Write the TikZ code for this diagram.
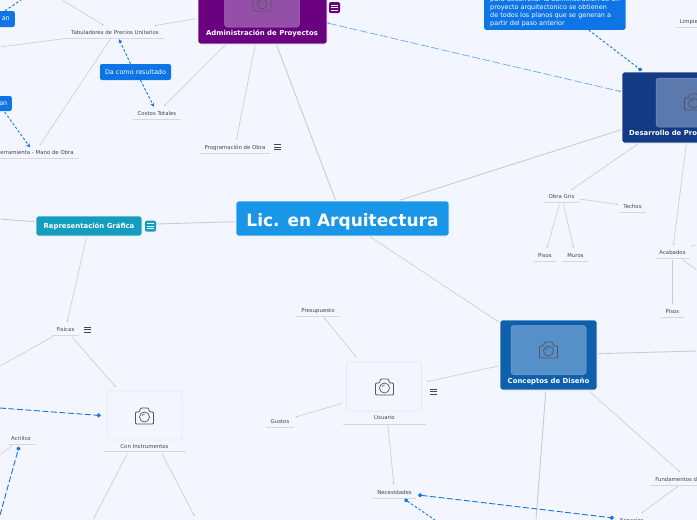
\documentclass[tikz,border=0pt]{standalone}
\usepackage{fontspec}
\setmainfont{DejaVu Sans}
\usetikzlibrary{arrows.meta,calc}
\definecolor{bgc}{HTML}{F4F6FF}
\definecolor{linec}{HTML}{C9CBD3}
\definecolor{blu}{HTML}{0E75E6}
\definecolor{lblu}{HTML}{6AA9F4}
\definecolor{txt}{HTML}{45454D}
\definecolor{under}{HTML}{D5D7E0}
\definecolor{cen}{HTML}{1A96E8}
\definecolor{pur}{HTML}{6A0080}
\definecolor{purin}{HTML}{9450A8}
\definecolor{nav}{HTML}{123A85}
\definecolor{navin}{HTML}{5C79AE}
\definecolor{mid}{HTML}{0E60AD}
\definecolor{midin}{HTML}{5590C8}
\definecolor{teal}{HTML}{149DBF}
\definecolor{imgb}{HTML}{E6E8F0}
\definecolor{camc}{HTML}{55555F}
\tikzset{x=1pt,y=1pt,
 conn/.style={draw=linec,line width=.6pt,shorten >=1pt,shorten <=1pt,-{Stealth[length=2pt,width=2pt]}},
 conb/.style={draw=linec,line width=.9pt,shorten >=1pt,shorten <=1pt,-{Stealth[length=2pt,width=2pt]}},
 lnk/.style={draw=blu,line width=.9pt,dash pattern=on 6pt off 2.5pt,-{Circle[length=4pt,width=4pt]}},
 lnkb/.style={lnk,{Circle[length=4pt,width=4pt]}-{Circle[length=4pt,width=4pt]}},
 lnkd/.style={draw=blu,line width=.9pt,dash pattern=on 2.5pt off 2pt},
 lnkl/.style={draw=lblu,line width=.7pt,dash pattern=on 8pt off 2.5pt,{Circle[length=2pt,width=2pt]}-{Circle[length=2pt,width=2pt]}},
 lab/.style={font=\fontsize{5.4}{6}\selectfont,text=txt,inner sep=0pt,minimum height=12pt,text height=4pt,text depth=0pt},
 ul/.style={draw=under,line width=.8pt},
 topic/.style={rounded corners=2.5pt,draw=white,line width=.7pt,inner sep=0pt,minimum height=#1},
 inner/.style={rounded corners=3pt,inner sep=0pt,minimum width=75pt,minimum height=49pt},
 ghost/.style={inner sep=0pt,minimum width=83pt,minimum height=66pt},
 ttl/.style={font=\bfseries\fontsize{6.9}{8}\selectfont,text=white,inner sep=0pt,text height=5pt,text depth=0pt},
 note/.style={fill=blu,rounded corners=2pt,text=white,font=\fontsize{6.45}{7.9}\selectfont,align=left}
}
\newcommand{\cam}[3]{%
 \begin{scope}[shift={(#1,-#2)}]
 \draw[#3,line width=.8pt,rounded corners=1pt,line join=round]
  (-9,-8) -- (9,-8) -- (9,4) -- (5,4) -- (4,8) -- (-4,8) -- (-5,4) -- (-9,4) -- cycle;
 \draw[#3,line width=.7pt] (0,-1) circle (5);
 \draw[#3,line width=.5pt] (-2.5,0) arc (170:80:2.5);
 \end{scope}}
\newcommand{\lbl}[5]{%
 \node[lab,minimum width=#4pt] (#1) at (#2,-#3) {#5};
 \draw[ul] (#1.south west) -- (#1.south east);}
\newcommand{\menuicon}[4]{% name x y colour
 \node[inner sep=0pt,minimum size=10pt] (#1) at (#2,-#3) {};
 \draw[#4,line width=.65pt] (#2-3.5,-#3+2.6) -- ++(7,0) (#2-3.5,-#3) -- ++(7,0) (#2-3.5,-#3-2.6) -- ++(7,0);}
\newcommand{\menubox}[4]{% name x y fill
 \node[fill=#4,rounded corners=1.5pt,inner sep=0pt,minimum size=11pt] (#1) at (#2,-#3) {};
 \draw[white,line width=.6pt] (#2-3.5,-#3+2.6) -- ++(7,0) (#2-3.5,-#3) -- ++(7,0) (#2-3.5,-#3-2.6) -- ++(7,0);}
\begin{document}
\begin{tikzpicture}
\useasboundingbox (0,-520) rectangle (697,0);
\fill[bgc] (0,-520) rectangle (697,0);
% free ends of connectors that leave the picture
\coordinate (eA) at (62,0);
\coordinate (eB) at (0,-47);
\coordinate (eC) at (0,-219);
\coordinate (eD) at (0,-366);
\coordinate (eE) at (93,-520);
\coordinate (eF) at (195,-517);
\coordinate (eG) at (697,-351);
\coordinate (eH) at (697,-244.5);
\coordinate (eI) at (697,-270);
\coordinate (eJ) at (536,-520);
\coordinate (eK) at (0,-408);
\coordinate (eL) at (0,-515);
\coordinate (eN) at (435,-520);
\coordinate (eO) at (0,-455);
\coordinate (eP) at (21,0);
% topics
\node[topic=35pt,fill=cen,minimum width=213pt,font=\bfseries\fontsize{17}{19}\selectfont,text=white,text height=15pt,text depth=0pt] (centre) at (342.5,-218.5) {Lic. en Arquitectura};
\node[topic=72pt,fill=pur,minimum width=129pt] (admin) at (262.5,-8) {};
\node[inner,fill=purin,draw=purin!80!white,line width=.5pt] (adminimg) at (262,-2.5) {};
\node[ttl] (admint) at (262,-33) {Administración de Proyectos};
\node[topic=71pt,fill=nav,minimum width=138pt] (desa) at (691,-107.5) {};
\node[inner,fill=navin,draw=navin!80!white,line width=.5pt] (desaimg) at (693.5,-102.5) {};
\node[ttl,anchor=base west] (desat) at (629,-135.5) {Desarrollo de Proyectos};
\node[topic=70pt,fill=mid,minimum width=97pt] (conc) at (548.5,-355) {};
\node[inner,fill=midin,draw=midin!80!white,line width=.5pt] (concimg) at (548.5,-350) {};
\node[ttl] (conct) at (548.5,-381) {Conceptos de Diseño};
\node[topic=20pt,fill=teal,minimum width=106pt,font=\bfseries\fontsize{6.9}{8}\selectfont,text=white,text height=5pt,text depth=0pt] (repr) at (89,-226) {Representación Gráfica};
% image topics
\node[ghost] (usu) at (384.5,-391) {};
\node[inner,fill=bgc,draw=imgb,line width=.7pt] (usuimg) at (384,-386.5) {};
\node[lab] (usut) at (384.5,-417.5) {Usuario};
\draw[ul] ([yshift=-.5pt]usu.south west) -- ([yshift=-.5pt]usu.south east);
\node[ghost,minimum height=64pt] (cins) at (144.5,-420) {};
\node[inner,fill=bgc,draw=imgb,line width=.7pt] (cinsimg) at (144.5,-415.5) {};
\node[lab] (cinst) at (144.5,-446) {Con Instrumentos};
\draw[ul] ([yshift=.5pt]cins.south west) -- ([yshift=.5pt]cins.south east);
% labels
\lbl{tab}{115}{32}{97}{Tabuladores de Precios Unitarios}
\lbl{cos}{157}{113}{48}{Costos Totales}
\lbl{prog}{235}{147}{70}{Programación de Obra}
\lbl{herr}{35}{152.5}{88}{Herramienta - Mano de Obra}
\lbl{fis}{65.5}{329.5}{27}{Fisicas}
\lbl{acr}{21}{438.5}{28}{Acrilico}
\lbl{pres}{318}{310.5}{42}{Presupuesto}
\lbl{gus}{280}{421.5}{28}{Gustos}
\lbl{nec}{394.5}{492}{43}{Necesidades}
\lbl{obra}{561.5}{196.5}{35}{Obra Gris}
\lbl{tec}{632.5}{206.5}{27}{Techos}
\lbl{pis}{545}{255.5}{22}{Pisos}
\lbl{mur}{575.5}{255.5}{25}{Muros}
\lbl{acab}{672.5}{252.5}{35}{Acabados}
\lbl{pisb}{672.5}{311.5}{23}{Pisos}
\lbl{lim}{692}{21.5}{30}{Limpieza}
\lbl{fund}{688}{479}{74}{Fundamentos de Diseño}
\lbl{esp}{632}{520}{32}{Espacios}
% blue notes
\node[note,anchor=south west,inner xsep=6pt,inner ysep=3pt,minimum width=113pt] (nota) at (484,-30) {para desarrollar la administración de un\\proyecto arquitectonico se obtienen\\de todos los planos que se generan a\\partir del paso anterior};
\node[note,minimum width=71pt,minimum height=16pt,inner sep=0pt,text height=4.8pt,text depth=0pt] (res) at (135.5,-72) {Da como resultado};
\node[note,anchor=east,minimum height=16pt,inner ysep=0pt,inner xsep=5pt] (ana) at (15,-19) {an};
\node[note,anchor=east,minimum height=15pt,inner ysep=0pt,inner xsep=4.5pt] (anb) at (12,-103.5) {an};
% connectors
\draw[conb] (admin) -- (centre);
\draw[conb] (centre) -- (desa);
\draw[conn] (centre) -- (conc);
\draw[conb] (centre) -- (repr);
\draw[conn] (admin) -- (tab);
\draw[conn] (admin) -- (cos);
\draw[conn] (admin) -- (prog);
\draw[conn] (eA) -- (tab);
\draw[conn,-] (tab) -- (eB);
\draw[conn] (tab) -- (herr);
\draw[conn] (desa) -- (obra);
\draw[conn] (desa) -- (acab);
\draw[conn] (obra) -- (tec);
\draw[conn] (obra) -- (pis);
\draw[conn] (obra) -- (mur);
\draw[conn] (acab) -- (pisb);
\draw[conn,-] (acab) -- (eH);
\draw[conn,-] (acab) -- (eI);
\draw[conb,-] (repr) -- (eC);
\draw[conn] (repr) -- (fis);
\draw[conn,-] (fis) -- (eD);
\draw[conn] (fis) -- (cins);
\draw[conn,-] (cins) -- (eE);
\draw[conn] (cins) -- (eF);
\draw[conn,-] (acr) -- (eO);
\draw[conn] (conc) -- (usu);
\draw[conn] (usu) -- (pres);
\draw[conn] (usu) -- (gus);
\draw[conn] (usu) -- (nec);
\draw[conb,-] (conc) -- (eG);
\draw[conb,-] (conc) -- (eJ);
\draw[conn] (conc) -- (fund);
\draw[conn] (fund) -- (esp);
% dashed links
\draw[lnkl] ([yshift=-15pt]admin.east) -- ([xshift=-1pt,yshift=16pt]desa.west);
\draw[lnkd,-{Circle[length=4pt,width=4pt]}] ([xshift=-37pt]nota.south east) -- ([xshift=20pt,yshift=1pt]desa.north west);
\draw[lnkd,-{Stealth[length=4pt,width=4pt]}] ([xshift=-5pt]res.north) -- ([xshift=4pt,yshift=-1pt]tab.south);
\draw[lnkd,-{Stealth[length=4pt,width=4pt]}] ([xshift=5pt]res.south) -- ([xshift=-3pt]cos.north);
\draw[lnkd,-{Stealth[length=4pt,width=4pt]}] ([xshift=1.5pt,yshift=-1pt]anb.south) -- ([xshift=-5pt,yshift=-1pt]herr.north);
\draw[lnkd] ([xshift=-10pt]ana.north east) -- (eP);
\draw[lnk] (eK) -- ([xshift=-6pt]cinsimg.west);
\draw[lnk] (eL) -- ([xshift=-2pt,yshift=-2pt]acr.south);
\draw[lnkb] ([xshift=2pt,yshift=-3pt]nec.east) -- ([xshift=-2pt,yshift=2pt]esp.west);
\draw[lnkd,{Circle[length=4pt,width=4pt]}-] ([xshift=10pt,yshift=-1pt]nec.south) -- (eN);
% menu buttons, above the connectors
\menubox{adminm}{334.5}{7.5}{pur}
\menubox{reprm}{150.5}{226}{teal}
\menuicon{progm}{277}{147}{txt}
\menuicon{fism}{87}{329.5}{txt}
\menuicon{usum}{433.5}{391.5}{txt}
% cameras
\cam{262}{3}{camc}
\cam{693.5}{102}{camc}
\cam{548.5}{350}{camc}
\cam{384.5}{387}{camc}
\cam{144.5}{416}{camc}
\end{tikzpicture}
\end{document}
